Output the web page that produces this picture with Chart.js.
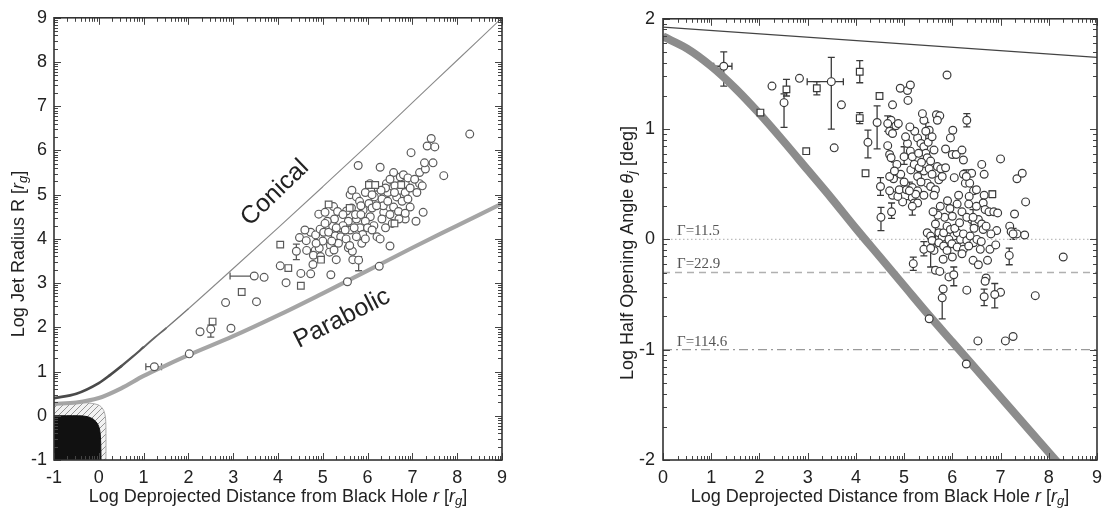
<!DOCTYPE html>
<html><head><meta charset="utf-8">
<script src="https://cdn.jsdelivr.net/npm/chart.js@4.4.1/dist/chart.umd.min.js"></script>
<style>
html,body{margin:0;padding:0;background:#fff;width:1109px;height:511px;overflow:hidden}
#c1{position:absolute;left:0;top:0}
#c2{position:absolute;left:580px;top:0}
</style></head><body>
<canvas id="c1" width="545" height="511"></canvas>
<canvas id="c2" width="529" height="511"></canvas>
<script>
// ---------- LEFT PANEL DATA (log r, log R) ----------
const leftXTicks = [-1,0,1,2,3,4,5,6,7,8,9];
const leftYTicks = [-1,0,1,2,3,4,5,6,7,8,9];
const conicalCurve = [[-1,0.40],[-0.5,0.50],[0,0.74],[0.25,0.92],[0.5,1.12],[0.75,1.33],[1,1.55],[1.25,1.77],[1.5,1.98],[2,2.42],[3,3.33],[4,4.25],[5,5.18],[6,6.12],[7,7.08],[8,8.04],[9,9.0]];
const parabolicCurve = [[-1,0.27],[-0.5,0.30],[0,0.40],[0.5,0.62],[1,0.90],[1.5,1.14],[2,1.37],[3,1.80],[4,2.27],[5,2.77],[6,3.28],[7,3.80],[8,4.30],[9,4.80]];
const hatchRegion = [[-1,0.30],[-0.4,0.30],[-0.15,0.28],[0.02,0.23],[0.11,0.12],[0.15,-0.05],[0.16,-0.4],[0.16,-1]];
const blackHole = [[-1,0.0],[-0.45,0.0],[-0.25,-0.02],[-0.12,-0.08],[-0.03,-0.18],[0.02,-0.32],[0.04,-0.55],[0.05,-1]];
const radiusCircles = [[2.02,1.40],[2.26,1.90],[2.95,1.98],[2.83,2.56],[3.52,2.58],[3.69,3.13],[4.05,3.39],[4.18,3.01],[4.51,3.22],[4.48,4.03],[4.73,3.21],[4.78,3.42],[4.63,3.96],[4.64,3.74],[4.83,3.74],[4.92,3.79],[4.79,3.63],[4.73,4.15],[4.84,4.09],[4.94,4.22],[4.91,4.56],[5.05,4.60],[5.02,4.15],[5.13,4.15],[5.17,3.85],[5.15,3.70],[5.18,3.19],[5.22,4.30],[5.28,4.07],[5.26,4.45],[5.24,4.73],[5.33,4.62],[5.40,4.25],[5.40,4.05],[5.30,3.53],[5.55,3.03],[5.67,3.53],[5.57,3.80],[5.52,4.00],[5.61,4.20],[5.57,4.40],[5.53,4.63],[5.64,4.70],[5.61,5.00],[5.65,5.10],[5.79,5.66],[5.75,4.95],[5.75,4.45],[5.83,4.25],[5.87,3.90],[5.89,4.10],[5.66,3.72],[5.82,4.85],[5.73,4.55],[6.07,5.10],[6.03,4.80],[6.10,4.70],[6.06,4.50],[6.14,4.30],[6.21,4.05],[6.28,4.00],[6.28,5.62],[6.21,5.00],[6.32,4.90],[6.36,4.60],[6.32,4.45],[6.26,3.38],[6.42,5.25],[6.45,5.05],[6.58,5.50],[6.61,5.20],[6.65,4.95],[6.58,4.72],[6.50,4.55],[6.50,3.84],[6.73,5.40],[6.84,5.25],[6.73,5.10],[6.77,4.85],[6.69,4.62],[6.84,4.45],[6.80,5.45],[6.90,5.38],[6.84,5.05],[6.95,4.72],[6.84,4.58],[6.97,5.95],[7.08,4.40],[7.24,4.60],[7.16,5.25],[7.16,5.50],[7.22,5.20],[7.29,5.58],[7.27,5.72],[7.33,6.10],[7.42,6.27],[7.46,5.72],[7.50,6.08],[7.70,5.43],[8.28,6.37],[5.00,3.95],[5.35,3.90],[5.45,4.30],[5.90,4.65],[5.95,4.40],[6.00,4.25],[6.35,4.75],[6.55,4.35],[6.45,4.85],[6.15,4.95],[5.70,4.25],[5.20,3.95],[5.45,4.55],[5.10,4.40],[4.95,3.60],[5.85,4.55],[6.40,5.15],[6.60,5.05],[6.95,5.15],[7.05,5.35],[6.70,4.45],[6.20,4.75],[5.95,5.05],[6.05,5.25],[5.60,3.85],[4.85,3.90],[4.60,4.20],[5.05,4.35],[5.30,4.25],[5.50,4.20],[5.85,4.75],[6.10,5.00],[6.50,5.35],[6.30,5.10],[6.90,4.90],[7.10,5.05],[5.25,3.75],[5.75,4.05],[6.10,4.20],[6.40,4.25],[5.95,4.00]];
const radiusSquares = [[2.54,2.13],[3.19,2.80],[4.05,3.87],[4.23,3.34],[4.51,2.94],[4.96,3.53],[5.13,4.78],[6.03,5.22],[6.60,4.35],[5.60,4.70],[6.17,5.22],[6.75,5.22]];
// [x, y, xLow, xHigh, yLow, yHigh]
const radiusErrors = [[1.24,1.11,1.05,1.40,null,null],[2.50,1.96,null,null,1.78,2.05],[3.47,3.16,2.93,3.47,null,null],[4.41,3.72,null,null,3.53,3.88],[5.80,3.52,null,null,3.28,3.60]];
const leftNotes = ['Conical','Parabolic'];
const leftNotePos = [[3.93,5.04],[5.43,2.20]];
const leftNoteAngle = [-44,-27];

// ---------- RIGHT PANEL DATA (log r, log theta) ----------
const rightXTicks = [0,1,2,3,4,5,6,7,8,9];
const rightYTicks = [-2,-1,0,1,2];
const thinLine = [[0,1.925],[9,1.65]];
const bandCurve = [[0,1.84],[0.5,1.73],[1,1.57],[1.5,1.37],[2,1.14],[2.5,0.89],[3,0.63],[3.5,0.37],[4,0.10],[4.5,-0.16],[5,-0.42],[5.5,-0.68],[6,-0.93],[7,-1.43],[8,-1.93],[8.6,-2.23]];
const gammaLabels = ['Γ=11.5','Γ=22.9','Γ=114.6'];
const gammaLevels = [0,-0.3,-1];
const thetaCircles = [[2.26,1.39],[2.83,1.46],[3.70,1.22],[3.55,0.83],[4.76,1.22],[4.73,1.08],[4.83,1.03],[4.88,1.05],[4.70,0.98],[4.76,0.96],[4.66,0.85],[4.70,0.77],[4.73,0.74],[4.85,0.68],[4.93,0.59],[4.78,0.55],[4.76,0.40],[4.97,0.34],[4.92,1.37],[5.07,1.35],[5.13,1.40],[5.08,1.26],[5.07,0.87],[5.13,0.80],[5.17,0.75],[5.28,0.92],[5.35,0.87],[5.17,0.47],[5.28,0.44],[5.17,0.38],[5.24,0.41],[5.41,1.08],[5.52,0.99],[5.38,1.14],[5.41,0.84],[5.45,0.78],[5.48,0.74],[5.55,0.71],[5.62,0.81],[5.67,1.13],[5.74,1.12],[5.69,1.08],[5.41,0.62],[5.52,0.64],[5.58,0.59],[5.48,0.51],[5.55,0.48],[5.65,0.45],[5.41,0.40],[5.62,0.40],[5.69,0.66],[5.76,0.64],[5.72,0.54],[5.79,0.57],[5.86,0.65],[5.86,0.82],[6.00,0.77],[5.89,1.49],[6.01,0.99],[5.96,0.92],[6.08,0.77],[6.20,0.81],[6.23,0.72],[6.04,0.56],[6.23,0.59],[6.27,0.51],[6.36,0.51],[6.40,0.60],[6.44,0.44],[6.13,0.40],[6.10,0.32],[6.00,0.21],[6.35,0.39],[6.34,0.32],[6.61,0.68],[6.66,0.59],[7.00,0.73],[7.34,0.55],[7.45,0.60],[7.52,0.34],[7.29,0.23],[6.66,0.40],[6.64,0.33],[6.68,0.27],[6.76,0.25],[6.86,0.25],[6.94,0.24],[6.40,0.18],[6.47,0.15],[6.54,0.18],[6.61,0.14],[6.64,0.09],[6.92,0.08],[7.19,0.12],[7.22,0.07],[7.34,0.05],[7.50,0.04],[5.48,0.06],[5.55,0.03],[5.72,0.06],[5.79,0.02],[5.82,0.06],[5.89,0.12],[5.96,0.09],[6.03,0.03],[6.10,0.06],[6.17,0.00],[6.23,0.05],[6.30,-0.01],[6.37,0.03],[6.44,-0.03],[6.51,0.00],[5.58,-0.01],[5.72,-0.03],[5.82,-0.06],[5.93,0.00],[5.99,-0.04],[6.10,-0.07],[6.23,-0.09],[6.34,-0.06],[5.89,-0.10],[5.62,-0.10],[5.81,-0.18],[6.00,-0.16],[6.20,-0.13],[6.43,-0.19],[6.54,-0.23],[6.73,-0.19],[6.78,-0.09],[6.58,-0.09],[5.65,-0.28],[5.74,-0.29],[5.93,-0.34],[6.30,-0.46],[6.70,-0.35],[6.68,-0.38],[7.00,-0.48],[7.72,-0.51],[8.30,-0.16],[6.53,-0.92],[7.10,-0.92],[7.26,-0.88],[6.29,-1.13],[5.52,-0.72],[5.14,0.63],[5.21,0.68],[5.28,0.57],[5.31,0.65],[5.35,0.52],[5.21,0.33],[5.28,0.33],[4.87,0.39],[4.90,0.45],[4.70,0.44],[4.70,0.57],[5.81,-0.45],[5.03,0.93],[5.22,0.98],[5.12,1.02],[5.30,0.78],[5.50,0.88],[5.58,0.93],[5.36,0.70],[5.00,0.52],[5.05,0.45],[5.90,0.35],[5.95,0.28],[5.84,0.20],[6.05,0.10],[6.15,0.15],[6.20,0.25],[6.30,0.20],[5.70,0.22],[5.75,0.30],[5.60,0.25],[6.50,0.30],[6.50,0.45],[6.70,0.12],[6.80,0.05],[6.90,-0.05],[6.60,-0.02],[6.45,0.10]];
const thetaSquares = [[2.02,1.15],[2.97,0.80],[4.20,0.60],[4.49,1.30]];
// [x, y, xLow, xHigh, yLow, yHigh]
const thetaErrors = [[1.26,1.57,1.05,1.43,1.39,1.70],[2.51,1.24,null,null,1.015,1.32],[3.49,1.43,2.99,3.74,1.00,1.65],[4.25,0.88,null,null,0.74,0.99],[4.44,1.06,null,null,0.82,1.21],[4.51,0.48,null,null,0.40,0.56],[4.52,0.20,null,null,0.08,0.29],[4.74,0.25,null,null,0.19,0.33],[4.66,1.05,null,null,0.98,1.12],[5.17,0.30,null,null,0.22,0.38],[6.30,1.08,null,null,1.02,1.14],[5.41,-0.09,null,null,-0.15,-0.02],[5.65,0.14,null,null,-0.05,0.27],[5.55,-0.08,null,null,-0.25,0.00],[5.19,-0.22,null,null,-0.28,-0.16],[5.79,-0.53,null,null,-0.72,-0.45],[6.03,-0.32,null,null,-0.42,-0.25],[6.66,-0.52,null,null,-0.60,-0.45],[6.88,-0.50,null,null,-0.62,-0.40],[7.18,-0.145,null,null,-0.23,-0.08],[7.26,0.05,null,null,0.00,0.10],[5.11,0.44,null,null,0.36,0.52],[5.00,0.75,null,null,0.68,0.84],[5.45,0.98,null,null,0.85,1.06],[4.80,0.62,null,null,0.55,0.70],[6.29,0.57,null,null,0.50,0.63],[6.43,0.20,null,null,0.13,0.27]];
const thetaErrSquares = [[2.56,1.36,null,null,1.30,1.45],[3.19,1.37,null,null,1.31,1.43],[4.08,1.52,null,null,1.42,1.62],[4.08,1.10,null,null,1.05,1.15],[6.83,0.41,null,null,0.38,0.44]];

// ---------- helpers ----------
const FAM = '"Liberation Sans", Arial, Helvetica, sans-serif';
Chart.defaults.font.family = FAM;
const pts = a => a.map(p => ({x:p[0], y:p[1]}));

const frameTicks = {
  id:'frameTicks',
  afterDatasetsDraw(chart){
    const {ctx, chartArea:a, scales:{x,y}} = chart;
    const logs=[2,3,4,5,6,7,8,9].map(k=>Math.log10(k));
    function each(s, fn){
      for(let n=Math.ceil(s.min); n<=s.max; n++){
        fn(n,7);
        if(n<s.max) logs.forEach(l=>fn(n+l,4));
      }
    }
    ctx.save();
    ctx.strokeStyle='#444'; ctx.lineWidth=1;
    ctx.beginPath();
    each(x,(v,len)=>{const p=Math.round(x.getPixelForValue(v))+0.5; ctx.moveTo(p,a.bottom); ctx.lineTo(p,a.bottom-len); ctx.moveTo(p,a.top); ctx.lineTo(p,a.top+len);});
    each(y,(v,len)=>{const p=Math.round(y.getPixelForValue(v))+0.5; ctx.moveTo(a.left,p); ctx.lineTo(a.left+len,p); ctx.moveTo(a.right,p); ctx.lineTo(a.right-len,p);});
    ctx.stroke();
    ctx.lineWidth=1.6; ctx.strokeStyle='#333';
    ctx.strokeRect(a.left,a.top,a.right-a.left,a.bottom-a.top);
    ctx.restore();
  }
};

const errorBars = {
  id:'errorBars',
  beforeDatasetsDraw(chart){
    const {ctx, scales:{x,y}} = chart;
    ctx.save();
    ctx.beginPath(); ctx.rect(chart.chartArea.left,chart.chartArea.top,chart.chartArea.width,chart.chartArea.height); ctx.clip();
    chart.data.datasets.forEach(ds=>{
      if(!ds.errors) return;
      ctx.strokeStyle = ds.errColor || '#333'; ctx.lineWidth = 1.3;
      ds.errors.forEach(e=>{
        const px=x.getPixelForValue(e[0]), py=y.getPixelForValue(e[1]);
        ctx.beginPath();
        if(e[2]!==null){
          const l=x.getPixelForValue(e[2]), h=x.getPixelForValue(e[3]);
          ctx.moveTo(l,py); ctx.lineTo(h,py);
          ctx.moveTo(l,py-3.5); ctx.lineTo(l,py+3.5);
          ctx.moveTo(h,py-3.5); ctx.lineTo(h,py+3.5);
        }
        if(e[4]!==null){
          const l=y.getPixelForValue(e[4]), h=y.getPixelForValue(e[5]);
          ctx.moveTo(px,l); ctx.lineTo(px,h);
          ctx.moveTo(px-3.5,l); ctx.lineTo(px+3.5,l);
          ctx.moveTo(px-3.5,h); ctx.lineTo(px+3.5,h);
        }
        ctx.stroke();
      });
    });
    ctx.restore();
  }
};

function drawRich(ctx, parts, cx, cy, rot, size, color){
  ctx.save(); ctx.translate(cx,cy); ctx.rotate(rot);
  const fontFor = s => s==='n' ? `${size}px ${FAM}` : s==='i' ? `italic ${size}px ${FAM}` : `italic ${Math.round(size*0.72)}px ${FAM}`;
  let total=0; parts.forEach(p=>{ctx.font=fontFor(p[1]); total+=ctx.measureText(p[0]).width;});
  let xx=-total/2; ctx.textBaseline='middle'; ctx.textAlign='left'; ctx.fillStyle=color||'#222';
  parts.forEach(p=>{ctx.font=fontFor(p[1]); ctx.fillText(p[0], xx, p[1]==='s'? size*0.25 : 0); xx+=ctx.measureText(p[0]).width;});
  ctx.restore();
}

const richTitles = {
  id:'richTitles',
  afterDraw(chart, args, o){
    const {ctx, chartArea:a} = chart;
    drawRich(ctx, o.xParts, (a.left+a.right)/2, o.xY, 0, 18);
    drawRich(ctx, o.yParts, o.yX, o.yCY, -Math.PI/2, 18);
  }
};

const notes = {
  id:'notes',
  afterDatasetsDraw(chart, args, o){
    const {ctx, scales:{x,y}} = chart;
    ctx.save();
    (o.items||[]).forEach(it=>{
      ctx.save();
      ctx.translate(x.getPixelForValue(it.x), y.getPixelForValue(it.y));
      ctx.rotate(it.rot*Math.PI/180);
      ctx.font = it.font; ctx.fillStyle = it.color; ctx.textAlign = it.align; ctx.textBaseline = it.baseline;
      ctx.fillText(it.text, 0, it.dy||0);
      ctx.restore();
    });
    ctx.restore();
  }
};

function axisCfg(min, max, ticksArr, fitKey, fitVal, pad){
  return {
    type:'linear', min, max,
    afterBuildTicks: s => { s.ticks = ticksArr.map(v=>({value:v})); },
    grid:{display:false, drawTicks:false},
    border:{display:false},
    ticks:{padding:pad, color:'#222', font:{size:18}, maxRotation:0, autoSkip:false},
    afterFit: s => { s[fitKey] = fitVal; }
  };
}

function markerDs(arr, style, color, radius, errors){
  return {data:pts(arr), showLine:false, pointStyle:style, pointRadius:radius, pointBorderWidth:1.2,
    pointBorderColor:color, pointBackgroundColor:'#fff', borderColor:color, backgroundColor:'#fff',
    errors: errors, errColor: color};
}

// ---------- LEFT CHART ----------
const c1 = document.getElementById('c1');
const hc = document.createElement('canvas'); hc.width = 6; hc.height = 6;
const hg = hc.getContext('2d');
hg.fillStyle='#f2f2f2'; hg.fillRect(0,0,6,6);
hg.strokeStyle='#8a8a8a'; hg.lineWidth=0.9;
hg.beginPath(); hg.moveTo(0,6); hg.lineTo(6,0); hg.moveTo(-1,1); hg.lineTo(1,-1); hg.moveTo(5,7); hg.lineTo(7,5); hg.stroke();
const hatchPattern = c1.getContext('2d').createPattern(hc,'repeat');

const conW = x => x < 0.5 ? 2.7 : x < 1.0 ? 2.3 : x < 1.5 ? 1.8 : x < 2 ? 1.4 : 1.1;
const conC = x => x < 0.5 ? '#4a4a4a' : x < 1.0 ? '#555' : x < 1.5 ? '#666' : x < 2 ? '#777' : '#8a8a8a';

new Chart(c1, {
  type:'line',
  data:{datasets:[
    markerDs(radiusErrors.map(e=>[e[0],e[1]]), 'circle', '#5a5a5a', 3.9, radiusErrors),
    markerDs(radiusSquares, 'rect', '#5a5a5a', 4.7),
    markerDs(radiusCircles, 'circle', '#5a5a5a', 3.9),
    {data:pts(conicalCurve), showLine:true, pointRadius:0, borderColor:'#8a8a8a', borderWidth:1.1, cubicInterpolationMode:'monotone', borderCapStyle:'round',
      segment:{borderWidth: c => conW(c.p0.parsed.x), borderColor: c => conC(c.p0.parsed.x)}},
    {data:pts(parabolicCurve), showLine:true, pointRadius:0, borderColor:'#a5a5a5', borderWidth:4.2, cubicInterpolationMode:'monotone'},
    {data:pts(blackHole), showLine:true, pointRadius:0, borderColor:'#111', borderWidth:1, backgroundColor:'#111', fill:'start', tension:0.3},
    {data:pts(hatchRegion), showLine:true, pointRadius:0, borderColor:'#aaa', borderWidth:1, backgroundColor:hatchPattern, fill:'start', tension:0.3}
  ]},
  options:{
    responsive:false, animation:false, events:[],
    layout:{padding:{left:0, top:13, right:43, bottom:0}},
    scales:{
      x: axisCfg(-1, 9, leftXTicks, 'height', 51, 7),
      y: axisCfg(-1, 9, leftYTicks, 'width', 54, 7)
    },
    plugins:{
      legend:{display:false}, tooltip:{enabled:false},
      richTitles:{xParts:[['Log Deprojected Distance from Black Hole ','n'],['r','i'],[' [','n'],['r','i'],['g','s'],[']','n']], xY:497,
                  yParts:[['Log Jet Radius R [','n'],['r','i'],['g','s'],[']','n']], yX:19, yCY:254},
      notes:{items:leftNotes.map((t,i)=>({text:t, x:leftNotePos[i][0], y:leftNotePos[i][1], rot:leftNoteAngle[i], font:`25px ${FAM}`, color:'#222', align:'center', baseline:'middle'}))}
    }
  },
  plugins:[errorBars, frameTicks, richTitles, notes]
});

// ---------- RIGHT CHART ----------
const hlineStyles = [{c:'#bdbdbd', d:[1.5,2.5], w:1.4},{c:'#b0b0b0', d:[7,5], w:1.4},{c:'#9a9a9a', d:[9,4,2,4], w:1.3}];
new Chart(document.getElementById('c2'), {
  type:'line',
  data:{datasets:[
    markerDs(thetaErrSquares.map(e=>[e[0],e[1]]), 'rect', '#3a3a3a', 4.7, thetaErrSquares),
    markerDs(thetaErrors.map(e=>[e[0],e[1]]), 'circle', '#3a3a3a', 3.9, thetaErrors),
    markerDs(thetaSquares, 'rect', '#3a3a3a', 4.7),
    markerDs(thetaCircles, 'circle', '#3a3a3a', 3.9),
    {data:pts(thinLine), showLine:true, pointRadius:0, borderColor:'#444', borderWidth:1.2},
    {data:pts(bandCurve), showLine:true, pointRadius:0, borderColor:'#8c8c8c', borderWidth:8, cubicInterpolationMode:'monotone'},
    ...gammaLevels.map((g,i)=>({data:[{x:0,y:g},{x:9,y:g}], showLine:true, pointRadius:0, borderColor:hlineStyles[i].c, borderDash:hlineStyles[i].d, borderWidth:hlineStyles[i].w}))
  ]},
  options:{
    responsive:false, animation:false, events:[],
    layout:{padding:{left:0, top:14, right:7, bottom:0}},
    scales:{
      x: axisCfg(0, 9, rightXTicks, 'height', 51, 7),
      y: axisCfg(-2, 2, rightYTicks, 'width', 83, 8)
    },
    plugins:{
      legend:{display:false}, tooltip:{enabled:false},
      richTitles:{xParts:[['Log Deprojected Distance from Black Hole ','n'],['r','i'],[' [','n'],['r','i'],['g','s'],[']','n']], xY:497,
                  yParts:[['Log Half Opening Angle ','n'],['θ','i'],['j','s'],[' [deg]','n']], yX:48, yCY:253},
      notes:{items:gammaLabels.map((t,i)=>({text:t, x:0.29, y:gammaLevels[i], rot:0, font:'15px "Liberation Serif", "Times New Roman", serif', color:'#555', align:'left', baseline:'alphabetic', dy:-4}))}
    }
  },
  plugins:[errorBars, frameTicks, richTitles, notes]
});
</script>
</body></html>
